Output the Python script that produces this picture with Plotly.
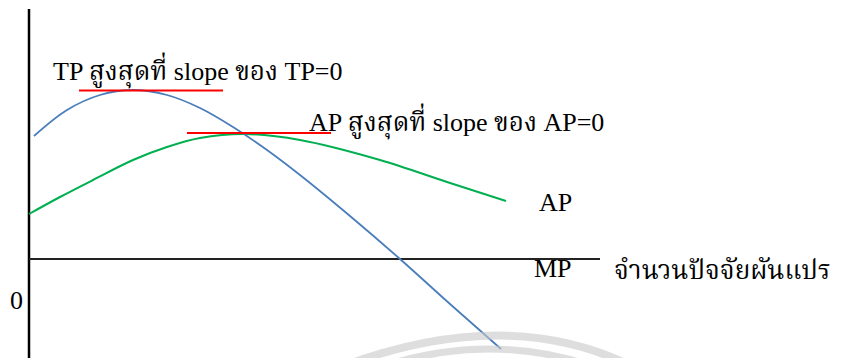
import plotly.graph_objects as go

# ---- data (x: units of variable input, y: output) ----
tp_x = [0.5, 3.8, 7.1, 10.4, 13.8, 17.1, 20.4, 23.8, 27.1, 32.1, 37.1, 42.1, 47.2]
tp_y = [12.3, 14.9, 16.4, 16.9, 16.4, 15.1, 13.2, 10.9, 8.4, 4.3, 0.0, -4.5, -9.0]

ap_x = [0.0, 3.1, 6.4, 10.4, 13.8, 17.1, 21.6, 27.1, 35.1, 41.8, 47.7]
ap_y = [4.5, 6.2, 7.9, 9.9, 11.2, 12.1, 12.5, 11.9, 9.9, 7.7, 5.8]

tp_tangent_x = [5.0, 19.4]
tp_tangent_y = [16.85, 16.85]
ap_tangent_x = [15.8, 30.2]
ap_tangent_y = [12.6, 12.6]

label_tp = "TP สูงสุดที่ slope ของ TP=0"
label_ap = "AP สูงสุดที่ slope ของ AP=0"
label_ap_curve = "AP"
label_mp_curve = "MP"
label_xaxis = "จำนวนปัจจัยผันแปร"
label_origin = "0"

FONT = "Liberation Serif, Norasi, Noto Serif Thai, Times New Roman, serif"
BLUE = "#4a7ebb"
GREEN = "#00b050"
RED = "#ff0000"

fig = go.Figure()

# axes lines
fig.add_trace(go.Scatter(x=[0, 0], y=[25.0, -11.5], mode="lines",
                         line=dict(color="black", width=2.5), hoverinfo="skip"))
fig.add_trace(go.Scatter(x=[0, 57.1], y=[0, 0], mode="lines",
                         line=dict(color="#222222", width=2), hoverinfo="skip"))

# curves
fig.add_trace(go.Scatter(x=ap_x, y=ap_y, mode="lines",
                         line=dict(color=GREEN, width=2, shape="spline", smoothing=1.0)))
fig.add_trace(go.Scatter(x=tp_x, y=tp_y, mode="lines",
                         line=dict(color=BLUE, width=1.8, shape="spline", smoothing=1.0)))

# tangents
fig.add_trace(go.Scatter(x=tp_tangent_x, y=tp_tangent_y, mode="lines",
                         line=dict(color=RED, width=2)))
fig.add_trace(go.Scatter(x=ap_tangent_x, y=ap_tangent_y, mode="lines",
                         line=dict(color=RED, width=2)))

def txt(x, y, s, anchor="left"):
    fig.add_annotation(x=x, y=y, text=s, showarrow=False, xanchor=anchor,
                       yanchor="middle", font=dict(family=FONT, size=26, color="black"))

txt(2.2, 18.9, label_tp)
txt(27.8, 13.8, label_ap)
txt(50.8, 5.7, label_ap_curve)
txt(50.3, -0.9, label_mp_curve)
txt(58.3, -1.1, label_xaxis)
txt(-1.3, -4.1, label_origin, anchor="center")

# faint watermark arcs
fig.add_shape(type="path", xref="paper", yref="paper",
              path="M 0.396 0.0 Q 0.59 0.17 0.736 0.0",
              line=dict(color="rgba(200,200,200,0.6)", width=8))
fig.add_shape(type="path", xref="paper", yref="paper",
              path="M 0.443 0.0 Q 0.57 0.095 0.69 0.0",
              line=dict(color="rgba(200,200,200,0.6)", width=7))

fig.update_layout(
    width=847, height=358,
    margin=dict(l=0, r=0, t=0, b=0),
    paper_bgcolor="white", plot_bgcolor="white",
    showlegend=False,
    xaxis=dict(range=[-2.1, 82.6], visible=False, fixedrange=True),
    yaxis=dict(range=[-10.7, 25.1], visible=False, fixedrange=True),
)

fig.write_html("out.html")
